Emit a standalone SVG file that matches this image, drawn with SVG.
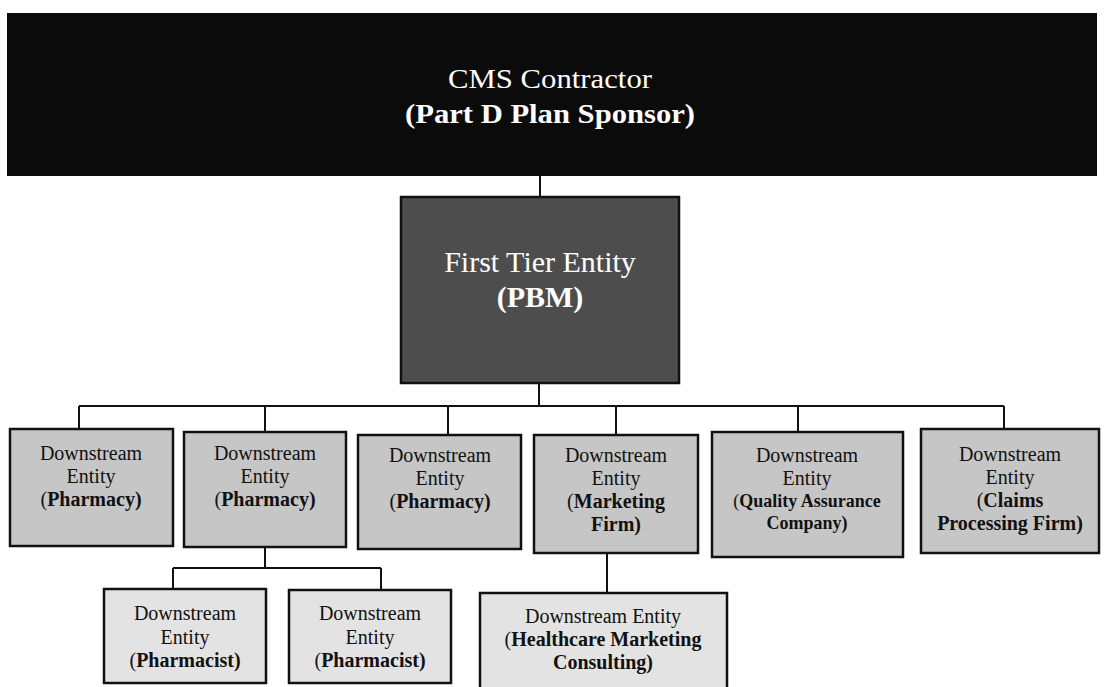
<svg xmlns="http://www.w3.org/2000/svg" width="1107" height="687" viewBox="0 0 1107 687">
<style>
  .conn { stroke: #111; stroke-width: 2; fill: none; }
  .box1 { fill: #c6c6c6; stroke: #111; stroke-width: 2.5; }
  .box2 { fill: #e3e3e3; stroke: #111; stroke-width: 2.5; }
  .t { font-family: "Liberation Serif", "Times New Roman", serif; font-size: 20px; fill: #111; text-anchor: middle; }
  .b { font-weight: bold; }
  .w { fill: #fff; }
  .top { font-size: 27px; }
  .big { font-size: 30px; }
  .sm { font-size: 18px; }
</style>
<rect width="1107" height="687" fill="#fff"/>
<g id="connectors">
  <path class="conn" d="M540 176 V197"/>
  <path class="conn" d="M539 383 V406"/>
  <path class="conn" d="M79 406 H1004"/>
  <path class="conn" d="M79 406 V429 M265 406 V432 M448 406 V435 M616 406 V435 M798 406 V432 M1004 406 V429"/>
  <path class="conn" d="M265 547 V568 M173 568 H381 M173 568 V589 M381 568 V590"/>
  <path class="conn" d="M607 553 V593"/>
</g>
<g id="cms">
  <rect x="7" y="13" width="1090" height="163" fill="#0b0b0b"/>
  <text class="t w top" x="550" y="88" textLength="204" lengthAdjust="spacingAndGlyphs">CMS Contractor</text>
  <text class="t w b top" x="550" y="123" textLength="290" lengthAdjust="spacingAndGlyphs">(Part D Plan Sponsor)</text>
</g>
<g id="pbm">
  <rect x="401" y="197" width="278" height="186" fill="#4d4d4d" stroke="#111" stroke-width="2.5"/>
  <text class="t w big" x="540" y="272">First Tier Entity</text>
  <text class="t w b big" x="540" y="307">(PBM)</text>
</g>
<g id="pharmacy1">
  <rect class="box1" x="10" y="429" width="163" height="117"/>
  <text class="t" x="91" y="460">Downstream</text>
  <text class="t" x="91" y="483">Entity</text>
  <text class="t" x="91" y="506">(<tspan class="b">Pharmacy)</tspan></text>
</g>
<g id="pharmacy2">
  <rect class="box1" x="184" y="432" width="162" height="115"/>
  <text class="t" x="265" y="460">Downstream</text>
  <text class="t" x="265" y="483">Entity</text>
  <text class="t" x="265" y="506">(<tspan class="b">Pharmacy)</tspan></text>
</g>
<g id="pharmacy3">
  <rect class="box1" x="358" y="435" width="163" height="114"/>
  <text class="t" x="440" y="462">Downstream</text>
  <text class="t" x="440" y="485">Entity</text>
  <text class="t" x="440" y="508">(<tspan class="b">Pharmacy)</tspan></text>
</g>
<g id="marketing">
  <rect class="box1" x="534" y="435" width="164" height="118"/>
  <text class="t" x="616" y="462">Downstream</text>
  <text class="t" x="616" y="485">Entity</text>
  <text class="t" x="616" y="508">(<tspan class="b">Marketing</tspan></text>
  <text class="t b" x="616" y="531">Firm)</text>
</g>
<g id="qa">
  <rect class="box1" x="712" y="432" width="191" height="125"/>
  <text class="t" x="807" y="462">Downstream</text>
  <text class="t" x="807" y="485">Entity</text>
  <text class="t sm" x="807" y="507">(<tspan class="b">Quality Assurance</tspan></text>
  <text class="t b sm" x="807" y="529">Company)</text>
</g>
<g id="claims">
  <rect class="box1" x="921" y="429" width="178" height="124"/>
  <text class="t" x="1010" y="461">Downstream</text>
  <text class="t" x="1010" y="484">Entity</text>
  <text class="t" x="1010" y="507">(<tspan class="b">Claims</tspan></text>
  <text class="t b" x="1010" y="530">Processing Firm)</text>
</g>
<g id="pharmacist1">
  <rect class="box2" x="104" y="589" width="162" height="94"/>
  <text class="t" x="185" y="620">Downstream</text>
  <text class="t" x="185" y="644">Entity</text>
  <text class="t" x="185" y="667">(<tspan class="b">Pharmacist)</tspan></text>
</g>
<g id="pharmacist2">
  <rect class="box2" x="289" y="590" width="162" height="93"/>
  <text class="t" x="370" y="620">Downstream</text>
  <text class="t" x="370" y="644">Entity</text>
  <text class="t" x="370" y="667">(<tspan class="b">Pharmacist)</tspan></text>
</g>
<g id="hmc">
  <rect class="box2" x="480" y="593" width="247" height="110"/>
  <text class="t" x="603" y="623">Downstream Entity</text>
  <text class="t" x="603" y="646">(<tspan class="b">Healthcare Marketing</tspan></text>
  <text class="t b" x="603" y="669">Consulting)</text>
</g>
</svg>
